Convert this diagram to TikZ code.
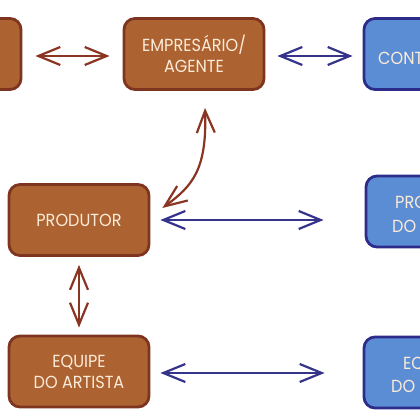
\documentclass[tikz,border=0pt]{standalone}
\usepackage{fontspec}
\setmainfont{Poppins}[FakeStretch=0.92]
\usetikzlibrary{arrows.meta}
\definecolor{tijolo}{HTML}{AD6231}
\definecolor{tijoloborda}{HTML}{7E3520}
\definecolor{setamarrom}{HTML}{8A3422}
\definecolor{ceu}{HTML}{5B8DD5}
\definecolor{ceuborda}{HTML}{2E2C8A}
\definecolor{setaazul}{HTML}{35338A}
\definecolor{creme}{HTML}{FBEBD8}
\begin{document}
\begin{tikzpicture}[x=1pt,y=-1pt,
  caixa/.style={line width=2.8pt, rounded corners=11pt, minimum width=140pt,
    minimum height=71pt, align=center, text=creme,
    font=\fontsize{17.5}{21}\selectfont},
  marrom/.style={caixa, fill=tijolo, draw=tijoloborda},
  azul/.style={caixa, fill=ceu, draw=ceuborda},
  rotulo/.style={anchor=base west, inner sep=0pt, text=creme,
    font=\fontsize{17.5}{21}\selectfont},
  seta/.style={line width=2.2pt,
    {Straight Barb[length=22pt,width=18pt]}-{Straight Barb[length=22pt,width=18pt]}},
  setam/.style={seta, draw=setamarrom},
  setaa/.style={seta, draw=setaazul}]
  \newcommand\colE{79}
  \newcommand\colC{194}
  \newcommand\colD{434}
  \useasboundingbox (0,0) rectangle (420,420);
  \clip (0,0) rectangle (420,420);

  % caixas marrons
  \node[marrom] (artista) at (-49,54) {};
  \node[marrom] (empresario) at (\colC,54) {EMPRESÁRIO/\\AGENTE};
  \node[marrom] (produtor) at (\colE,220) {PRODUTOR};
  \node[marrom] (equipe) at (\colE,371.5) {EQUIPE\\DO ARTISTA};

  % caixas azuis
  \node[azul] (contratante) at (\colD,54) {};
  \node[azul] (promotor) at (\colD+2,211.5) {};
  \node[azul] (equipelocal) at (\colD,372.5) {};
  \node[rotulo] (contTxt) at (378,64) {CONTR};
  \node[rotulo] (proTxt) at (395,208) {PROD};
  \node[rotulo] (proDoTxt) at (392,232) {DO};
  \node[rotulo] (eqTxt) at (403,369) {EQU};
  \node[rotulo] (eqDoTxt) at (391,392) {DO E};

  % setas
  \draw[setam, shorten <=13pt, shorten >=13pt]
    ([shift={(0,2)}]artista.east) -- ([shift={(0,2)}]empresario.west);
  \draw[setaa, shorten <=12pt, shorten >=10pt]
    ([shift={(0,2)}]empresario.east) -- ([shift={(0,2)}]contratante.west);
  \draw[setam] ([shift={(11,17)}]empresario.south)
    .. controls +(2,62) and +(30,-22) .. ([shift={(12,-12)}]produtor.east);
  \draw[setaa, shorten <=10pt, shorten >=41pt]
    (produtor.east) -- (produtor.east -| promotor.west);
  \draw[setam, shorten <=8pt, shorten >=7pt] (produtor.south) -- (equipe.north);
  \draw[setaa, shorten <=10pt, shorten >=38pt]
    ([shift={(0,1.5)}]equipe.east) -- ([shift={(0,1.5)}]equipe.east -| equipelocal.west);
\end{tikzpicture}
\end{document}
